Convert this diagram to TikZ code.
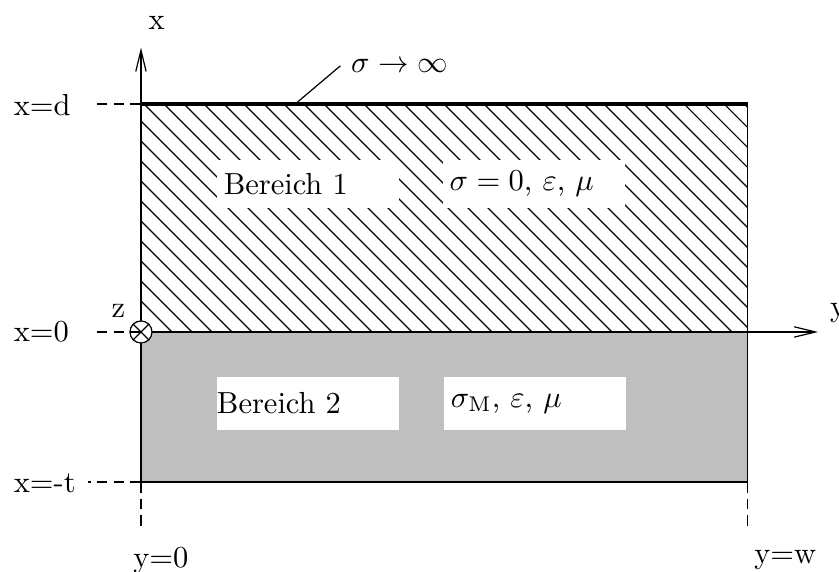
\documentclass[tikz,border=0pt]{standalone}
\usetikzlibrary{arrows.meta}
\begin{document}
\begin{tikzpicture}[
 wbox/.style={fill=white,inner xsep=0.08cm,inner ysep=0pt,text width=1.94cm,align=left,minimum height=0.55cm},
 guide/.style={dash pattern=on 3.5pt off 2pt},
 ax/.style={-{Straight Barb[length=7pt,width=3.4pt]}}]
\useasboundingbox (-1.626,-2.768) rectangle (8.051,3.829);
\coordinate (o) at (0,0);
\coordinate (d) at (0,2.63);
\coordinate (dw) at (7,2.63);
\coordinate (t) at (0,-1.73);
\coordinate (tw) at (7,-1.73);
\coordinate (xtip) at (0,3.28);
\coordinate (ytip) at (7.81,0);
% Bereich 2
\fill[black!25] (o) rectangle (tw);
% Bereich 1, schraffiert
\begin{scope}
\clip (o) rectangle (dw);
\foreach \k in {-12,...,30}
  \draw (\k*0.2307+0.035,2.63) -- ++(2.63,-2.63);
\end{scope}
\node[wbox] (b1) at (1.925,1.705) {Bereich 1};
\node[wbox,text width=1.94cm] (m1) at (4.53,1.705) {$\sigma=0$, $\varepsilon$, $\mu$};
\node[wbox,minimum height=0.61cm,inner xsep=0pt,text width=2.1cm] (b2) at (1.926,-0.825) {Bereich 2};
\node[wbox,minimum height=0.61cm] (m2) at (4.545,-0.825) {$\sigma_{\mathrm{M}}$, $\varepsilon$, $\mu$};
% Rand und Achsen
\draw (t) -- (tw) -- (dw);
\draw[line width=1.3pt] (d) -- (dw);
\draw[ax] (t) -- (xtip);
\draw[ax] (o) -- (ytip);
\node[circle,draw,fill=white,inner sep=0pt,minimum size=0.254cm] (zc) at (o) {};
\draw (zc.north west) -- (zc.south east) (zc.north east) -- (zc.south west);
\node (xl) at (0.18,3.56) {x};
\node (yl) at (8.04,0.22) {y};
\node (zl) at (-0.26,0.245) {z};
% Hilfslinien
\node[right] (ld) at (-1.59,2.62) {x=d};
\node[right] (l0) at (-1.59,0) {x=0};
\node[right] (lt) at (-1.59,-1.74) {x=-t};
\draw[guide] (d) -- ++(-0.52,0);
\draw[guide] (o) -- ++(-0.52,0);
\draw[guide] (t) -- ++(-0.61,0);
\draw[guide] (t) -- ++(0,-0.53);
\draw[guide] (tw) -- ++(0,-0.53);
\node (y0) at (0.23,-2.63) {y=0};
\node (yw) at (7.43,-2.63) {y=w};
% Leiter
\node[right] (inf) at (2.30,3.07) {$\sigma\rightarrow\infty$};
\draw (1.78,2.63) -- (inf.west);
\end{tikzpicture}
\end{document}
